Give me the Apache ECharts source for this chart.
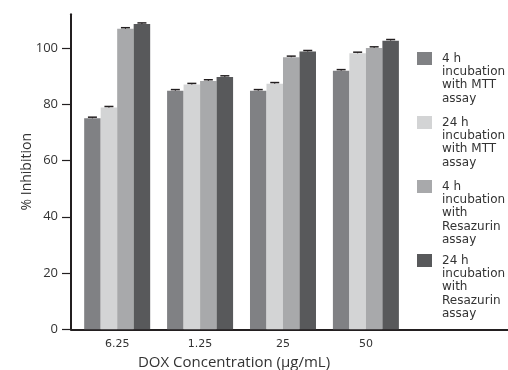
<!DOCTYPE html>
<html><head><meta charset="utf-8">
<script src="https://cdn.jsdelivr.net/npm/echarts@6/dist/echarts.min.js"></script>
<style>html,body{margin:0;padding:0;background:#fff}#c{width:508px;height:370px}</style>
</head><body><div id="c"></div>
<script>
// ---- data ----
const categories = ['6.25', '1.25', '25', '50'];
const seriesNames = [
  '4 h\nincubation\nwith MTT\nassay',
  '24 h\nincubation\nwith MTT\nassay',
  '4 h\nincubation\nwith\nResazurin\nassay',
  '24 h\nincubation\nwith\nResazurin\nassay'
];
const mtt4h  = [75.0, 84.8, 84.8, 91.9];
const mtt24h = [78.8, 87.0, 87.3, 98.1];
const res4h  = [106.8, 88.3, 96.7, 100.0];
const res24h = [108.5, 89.7, 98.7, 102.6];
const errMtt4h  = [0.4, 0.4, 0.4, 0.4];
const errMtt24h = [0.4, 0.4, 0.4, 0.4];
const errRes4h  = [0.4, 0.4, 0.4, 0.4];
const errRes24h = [0.4, 0.4, 0.4, 0.4];
const yTicks = [0, 20, 40, 60, 80, 100];
const xTickPositions = [0, 1, 2, 3];

// ---- styling ----
const colors = ['#808184', '#d3d4d5', '#a8a9ab', '#58595b'];
const BAR_W = 16.5;
const AX = '#231f20';
const values = [mtt4h, mtt24h, res4h, res24h];
const errs = [errMtt4h, errMtt24h, errRes4h, errRes24h];

const chart = echarts.init(document.getElementById('c'), null, {renderer: 'canvas'});

const barSeries = values.map((vals, k) => ({
  type: 'bar',
  name: seriesNames[k],
  data: vals.map((v, i) => [i, v]),
  barWidth: BAR_W,
  barGap: '0%',
  itemStyle: {color: colors[k]},
  silent: true
}));

const capSeries = values.map((vals, k) => ({
  type: 'custom',
  silent: true,
  z: 5,
  data: vals.map((v, i) => [i, v, errs[k][i]]),
  renderItem(params, api) {
    const x = api.value(0), v = api.value(1), e = api.value(2);
    const base = api.coord([x, v]);
    const top = api.coord([x, v + e]);
    const cx = base[0] + (k - 1.5) * BAR_W;
    return {
      type: 'group',
      children: [
        {type: 'line', shape: {x1: cx, y1: base[1], x2: cx, y2: top[1]}, style: {stroke: AX, lineWidth: 1}},
        {type: 'line', shape: {x1: cx - 4.5, y1: top[1], x2: cx + 4.5, y2: top[1]}, style: {stroke: AX, lineWidth: 1.5}}
      ]
    };
  }
}));

const lineH = 13.3;
const legendIconTops = [51, 115, 179, 253];
const legends = seriesNames.map((nm, k) => {
  const n = nm.split('\n').length;
  const total = (2 * n - 1) * lineH;
  return {
    left: 417,
    top: legendIconTops[k] + 6.5 - total / 2 + 1,
    padding: 0,
    orient: 'vertical',
    selectedMode: false,
    itemWidth: 15,
    itemHeight: 13,
    icon: 'rect',
    data: [nm],
    formatter: s => '\n'.repeat(n - 1) + s,
    textStyle: {fontFamily: 'DejaVu Sans', fontSize: 12, lineHeight: lineH, color: '#333', padding: [0, 0, 0, 5]}
  };
});

chart.setOption({
  animation: false,
  backgroundColor: '#fff',
  grid: {left: 71, right: 0, top: 14.2, bottom: 40.7, containLabel: false, outerBoundsMode: 'none'},
  legend: legends,
  xAxis: {
    type: 'value',
    min: -0.557,
    max: 4.714,
    splitLine: {show: false},
    axisLine: {show: true, onZero: false, lineStyle: {color: AX, width: 2}},
    axisTick: {show: false},
    axisLabel: {
      customValues: xTickPositions,
      formatter: v => categories[Math.round(v)] || '',
      margin: 9,
      fontFamily: 'DejaVu Sans', fontSize: 11, color: '#333'
    },
    name: 'DOX Concentration (\u00b5g/mL)',
    nameLocation: 'middle',
    nameGap: 26,
    nameMoveOverlap: false,
    nameTextStyle: {fontFamily: 'Open Sans', fontSize: 15, color: '#333', padding: [0, 111, 0, 0]}
  },
  yAxis: {
    type: 'value',
    min: 0,
    max: 112,
    splitLine: {show: false},
    axisLine: {show: true, onZero: false, lineStyle: {color: AX, width: 2}},
    axisTick: {show: true, customValues: yTicks, length: 9, lineStyle: {color: AX, width: 1.2}},
    axisLabel: {
      customValues: yTicks,
      margin: 13,
      fontFamily: 'Open Sans', fontSize: 13, color: '#333'
    },
    name: '% Inhibition',
    nameLocation: 'middle',
    nameGap: 37,
    nameMoveOverlap: false,
    nameTextStyle: {fontFamily: 'Open Sans', fontSize: 14, color: '#333'}
  },
  series: barSeries.concat(capSeries)
});
</script>
</body></html>
